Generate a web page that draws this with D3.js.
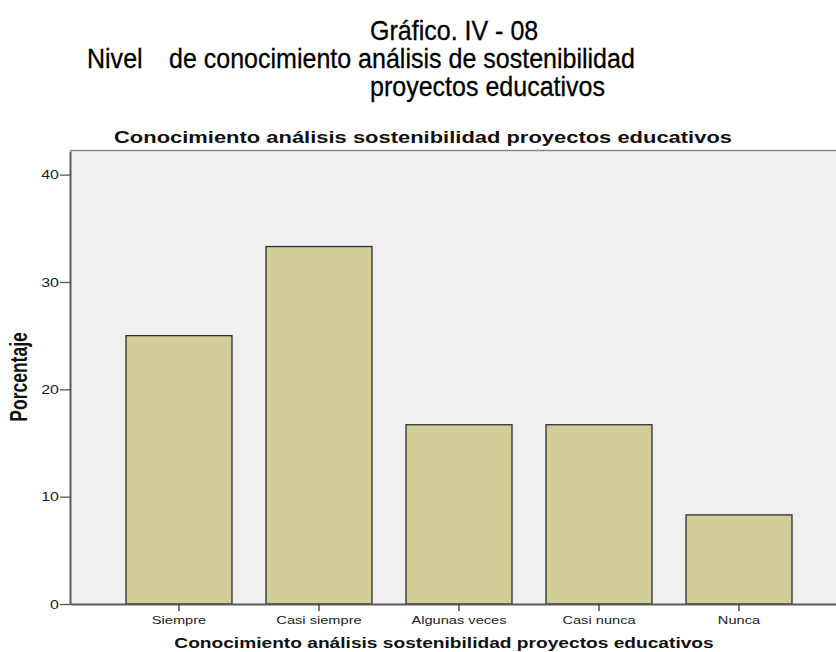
<!DOCTYPE html>
<html>
<head>
<meta charset="utf-8">
<script src="https://cdn.jsdelivr.net/npm/d3@7"></script>
<style>
	body { margin: 0; background: #ffffff; }
	svg { display: block; }
</style>
</head>
<body>
<svg id="chart" width="836" height="652"></svg>
<script>

// ---- data ----
var g_vsCategories = ["Siempre", "Casi siempre", "Algunas veces", "Casi nunca", "Nunca"];
var g_vfPercent = [25.0, 33.3, 16.7, 16.7, 8.3];
var g_vnYTicks = [0, 10, 20, 30, 40];

var g_vsHeader = ["Gráfico. IV - 08",
				  "Nivel",
				  "de conocimiento análisis de sostenibilidad",
				  "proyectos educativos"];
var g_sChartTitle = "Conocimiento análisis sostenibilidad proyectos educativos";
var g_sXTitle = "Conocimiento análisis sostenibilidad proyectos educativos";
var g_sYTitle = "Porcentaje";

// ---- look ----
var g_colorBar = "#d3ce97";
var g_colorPlot = "#f0f0f0";
var g_colorAxis = "#5a5a5a";
var g_sFont = "'Liberation Sans', Arial, sans-serif";
var g_fStretch = 1.33;   // the source picture is stretched sideways
var g_fHeadSqueeze = 0.91;
var g_nHeadSize = 27.5;

var g_nPlotL = 70, g_nPlotR = 848, g_nPlotT = 150, g_nPlotB = 604;

var g_domSVGMain = d3.select("#chart");

function funcText(x, y, sx, sText) {
	return g_domSVGMain.append("text")
				.attr("transform", "translate(" + x + "," + y + ") scale(" + sx + ",1)")
				.attr("font-family", g_sFont)
				.text(sText);
}

function funcDrawHeader() {

	var vnX = [370, 87, 169, 370];
	var vnY = [40, 68, 68, 96];

	g_vsHeader.forEach(function(s, i) {
		funcText(vnX[i], vnY[i], g_fHeadSqueeze, s)
			.attr("font-size", g_nHeadSize)
			.attr("stroke", "#000")
			.attr("stroke-width", 0.3)
			.attr("fill", "#000");
	});
}

function funcDrawChart() {

	var x = d3.scaleBand()
				.domain(g_vsCategories)
				.range([g_nPlotL, g_nPlotR])
				.paddingInner(0.243)
				.paddingOuter(0.4);

	var y = d3.scaleLinear()
				.domain([0, 42.2])
				.range([g_nPlotB, g_nPlotT + 1]);

	// plot background
	g_domSVGMain.append("rect")
					.attr("x", g_nPlotL)
					.attr("y", g_nPlotT)
					.attr("width", g_nPlotR - g_nPlotL)
					.attr("height", g_nPlotB - g_nPlotT)
					.attr("fill", g_colorPlot);

	g_domSVGMain.append("line")
					.attr("x1", g_nPlotL).attr("x2", g_nPlotR)
					.attr("y1", g_nPlotT + 0.5).attr("y2", g_nPlotT + 0.5)
					.attr("stroke", "#8a8a8a")
					.attr("stroke-width", 1.5);

	// bars
	g_domSVGMain.selectAll("rect.bar")
					.data(g_vfPercent)
					.enter()
					.append("rect")
						.attr("class", "bar")
						.attr("x", function(d, i) { return x(g_vsCategories[i]); })
						.attr("y", function(d) { return y(d); })
						.attr("width", x.bandwidth())
						.attr("height", function(d) { return g_nPlotB - y(d); })
						.attr("fill", g_colorBar)
						.attr("stroke", "#2e2e2e")
						.attr("stroke-width", 1.3);

	// y axis
	var gY = g_domSVGMain.append("g")
					.attr("transform", "translate(" + g_nPlotL + ",0)")
					.call(d3.axisLeft(y).tickValues(g_vnYTicks).tickSize(10).tickSizeOuter(0));

	gY.select(".domain").attr("stroke", g_colorAxis).attr("stroke-width", 2);
	gY.selectAll(".tick line").attr("stroke", g_colorAxis).attr("stroke-width", 1.3);
	gY.selectAll(".tick text")
		.attr("x", null)
		.attr("dy", "0.36em")
		.attr("transform", "translate(-11,0) scale(" + g_fStretch + ",1)")
		.attr("font-family", g_sFont)
		.attr("font-size", 12)
		.attr("fill", "#222");

	// x axis
	var gX = g_domSVGMain.append("g")
					.attr("transform", "translate(0," + g_nPlotB + ")")
					.call(d3.axisBottom(x).tickSize(7).tickSizeOuter(0));

	gX.select(".domain").attr("stroke", g_colorAxis).attr("stroke-width", 2);
	gX.selectAll(".tick line").attr("stroke", "#333").attr("stroke-width", 1.3);
	gX.selectAll(".tick text")
		.attr("y", null)
		.attr("dy", null)
		.attr("transform", "translate(0,20) scale(" + g_fStretch + ",1)")
		.attr("font-family", g_sFont)
		.attr("font-size", 11)
		.attr("fill", "#222");

	// titles
	funcText(423, 143, g_fStretch, g_sChartTitle)
		.attr("text-anchor", "middle")
		.attr("font-size", 16.5)
		.attr("font-weight", "bold")
		.attr("fill", "#111");

	funcText(444, 648, g_fStretch, g_sXTitle)
		.attr("text-anchor", "middle")
		.attr("font-size", 14.4)
		.attr("font-weight", "bold")
		.attr("fill", "#111");

	g_domSVGMain.append("text")
					.attr("transform", "translate(27," + ((g_nPlotT + g_nPlotB) / 2) + ") scale(" + g_fStretch + ",1) rotate(-90)")
					.attr("text-anchor", "middle")
					.attr("font-family", g_sFont)
					.attr("font-size", 17.5)
					.attr("font-weight", "bold")
					.attr("fill", "#111")
					.text(g_sYTitle);
}

funcDrawHeader();
funcDrawChart();

</script>
</body>
</html>
